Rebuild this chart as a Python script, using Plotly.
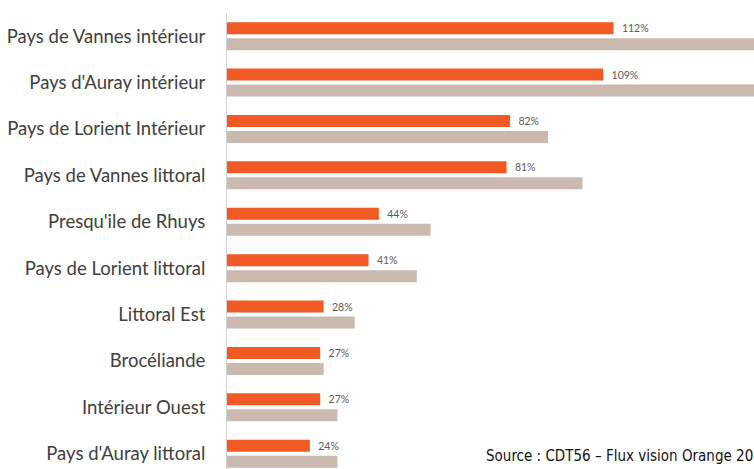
import plotly.graph_objects as go

# ── Data ───────────────────────────────────────────────────────────────────
territoires = [
    "Pays de Vannes intérieur",
    "Pays d'Auray intérieur",
    "Pays de Lorient Intérieur",
    "Pays de Vannes littoral",
    "Presqu'ile de Rhuys",
    "Pays de Lorient littoral",
    "Littoral Est",
    "Brocéliande",
    "Intérieur Ouest",
    "Pays d'Auray littoral",
]
serie_orange = [112, 109, 82, 81, 44, 41, 28, 27, 27, 24]
serie_grise = [160, 158, 93, 103, 59, 55, 37, 28, 32, 32]

ORANGE = "#f15a24"
GRIS = "#c9b9ae"
FONT = "Lato, 'Open Sans', sans-serif"

W, H = 754, 469
L, T = 227, 13

fig = go.Figure()
fig.add_trace(go.Bar(
    y=territoires, x=serie_orange, orientation="h",
    marker=dict(color=ORANGE, line_width=0),
    text=serie_orange, texttemplate="  %{x}%", textposition="outside",
    textfont=dict(size=10.5, color="#595959", family=FONT),
    constraintext="none", cliponaxis=False,
))
fig.add_trace(go.Bar(
    y=territoires, x=serie_grise, orientation="h",
    marker=dict(color=GRIS, line_width=0),
))

fig.update_layout(
    width=W, height=H,
    paper_bgcolor="white", plot_bgcolor="white",
    margin=dict(l=L, r=0, t=T, b=0),
    barmode="group", bargap=0.31, bargroupgap=0.25,
    showlegend=False,
    font=dict(family=FONT, color="#404040"),
)
fig.update_xaxes(range=[0, 152.7], visible=False)
fig.update_yaxes(
    range=[9.33, -0.5],
    showline=True, linecolor="#d4d4d4", linewidth=1,
    showgrid=False, ticks="", ticklabelstandoff=17,
    tickfont=dict(size=18.5, color="#404040", family=FONT),
)

fig.add_annotation(
    text="Source : CDT56 – Flux vision Orange 2019",
    xref="paper", yref="paper", x=(484 - L) / (W - L), xanchor="left",
    y=0.028, yanchor="middle", showarrow=False,
    font=dict(size=15, color="#111111",
              family="'DejaVu Sans Condensed', 'Liberation Sans Narrow', sans-serif"),
)

# drop the browser's default body margin so the figure sits at 0,0
fig.write_html(
    "out.html",
    config={"displayModeBar": False},
    post_script="document.body.style.margin='0';"
                "document.body.style.overflow='hidden';",
)
